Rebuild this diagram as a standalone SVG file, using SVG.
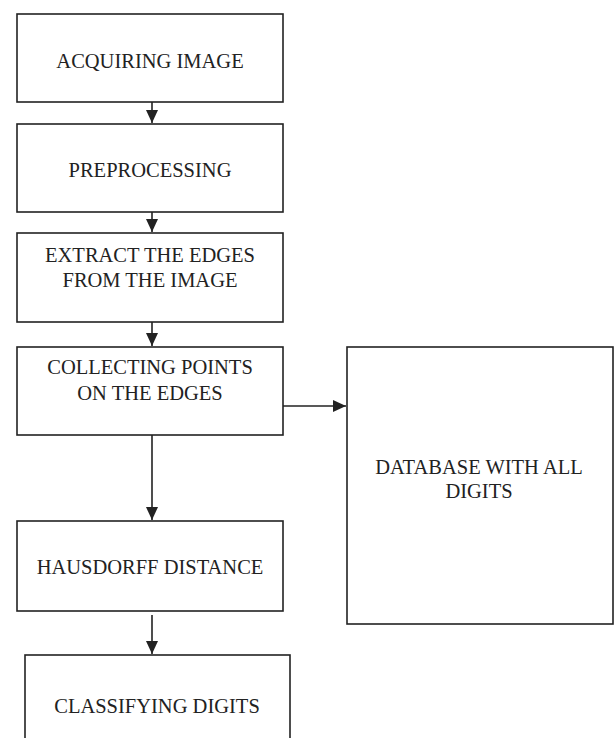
<svg xmlns="http://www.w3.org/2000/svg" width="614" height="738" viewBox="0 0 614 738">
<defs>
<style>
.box{fill:#fff;stroke:#222;stroke-width:1.6}
.lbl{font-family:"Liberation Serif","Times New Roman",serif;font-size:20.5px;fill:#222;text-anchor:middle}
.con{stroke:#222;stroke-width:1.6;fill:none}
</style>
<marker id="ah" viewBox="0 0 13 12" refX="13" refY="6" markerWidth="13" markerHeight="12" markerUnits="userSpaceOnUse" orient="auto">
<path d="M0,0 L13,6 L0,12 Z" fill="#222"/>
</marker>
</defs>
<rect width="614" height="738" fill="#fff"/>
<g id="n1"><rect class="box" x="17" y="14" width="266" height="88"/><text class="lbl" x="150" y="68">ACQUIRING IMAGE</text></g>
<g id="n2"><rect class="box" x="17" y="124" width="266" height="88"/><text class="lbl" x="150" y="177">PREPROCESSING</text></g>
<g id="n3"><rect class="box" x="17" y="233" width="266" height="89"/><text class="lbl" x="150" y="262">EXTRACT THE EDGES</text><text class="lbl" x="150" y="287">FROM THE IMAGE</text></g>
<g id="n4"><rect class="box" x="17" y="347" width="266" height="88"/><text class="lbl" x="150" y="374">COLLECTING POINTS</text><text class="lbl" x="150" y="400">ON THE EDGES</text></g>
<g id="n5"><rect class="box" x="17" y="521" width="266" height="90"/><text class="lbl" x="150" y="574">HAUSDORFF DISTANCE</text></g>
<g id="n6"><rect class="box" x="25" y="655" width="265" height="90"/><text class="lbl" x="157" y="713">CLASSIFYING DIGITS</text></g>
<g id="n7"><rect class="box" x="347" y="347" width="266" height="277"/><text class="lbl" x="479" y="474">DATABASE WITH ALL</text><text class="lbl" x="479" y="498">DIGITS</text></g>
<g id="connectors">
<line class="con" x1="152" y1="102" x2="152" y2="123" marker-end="url(#ah)"/>
<line class="con" x1="152" y1="212" x2="152" y2="232" marker-end="url(#ah)"/>
<line class="con" x1="152" y1="322" x2="152" y2="346" marker-end="url(#ah)"/>
<line class="con" x1="152" y1="435" x2="152" y2="520" marker-end="url(#ah)"/>
<line class="con" x1="152" y1="615" x2="152" y2="654" marker-end="url(#ah)"/>
<line class="con" x1="283" y1="406" x2="346" y2="406" marker-end="url(#ah)"/>
</g>
</svg>
